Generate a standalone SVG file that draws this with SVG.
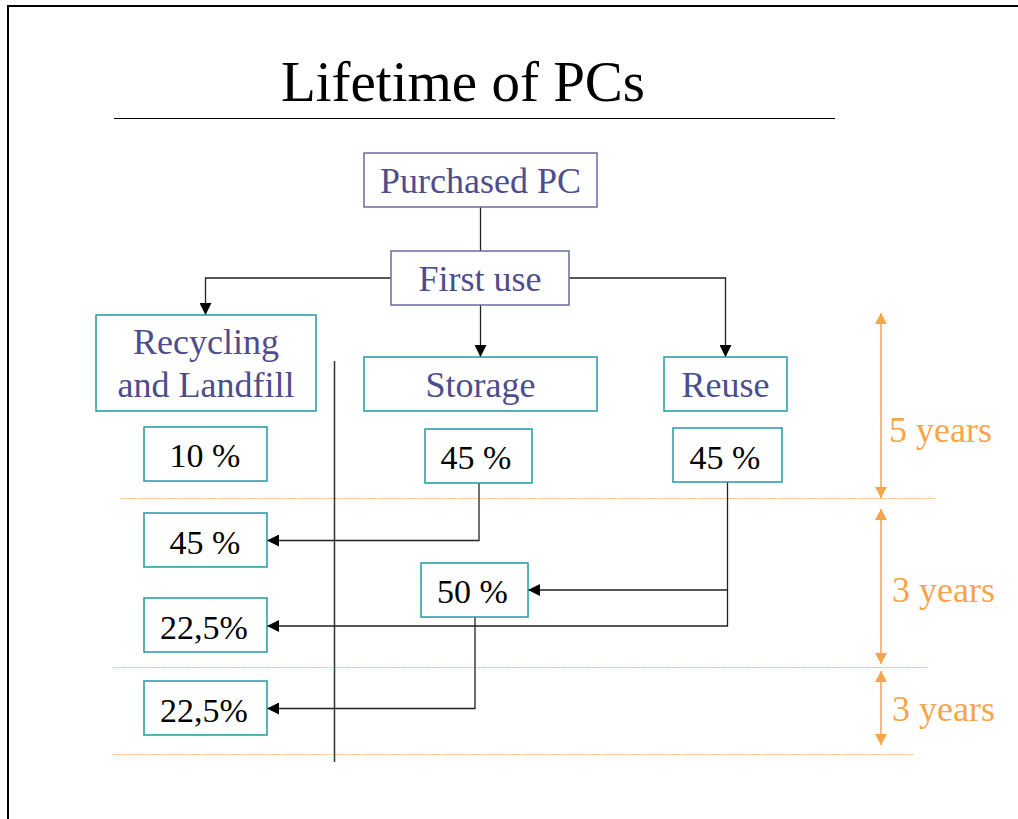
<svg xmlns="http://www.w3.org/2000/svg" width="1018" height="819" viewBox="0 0 1018 819">
<style>
.t{font-family:"Liberation Serif","Times New Roman",serif;text-anchor:middle}
.lbl{font-size:36px;fill:#4d4d8d}
.pct{font-size:34px;fill:#000}
.yr{font-family:"Liberation Serif","Times New Roman",serif;font-size:36px;fill:#f6a54a}
.pbox{fill:#fff;stroke:#6a6aa2;stroke-width:1.5}
.tbox{fill:#fff;stroke:#1f9ba3;stroke-width:1.5}
.con{fill:none;stroke:#222;stroke-width:1.3}
.dot{fill:none;stroke:#f6b26b;stroke-width:1;stroke-dasharray:1.5 1}
.oar{fill:none;stroke:#f6a54a;stroke-width:1.5}
</style>
<defs>
<marker id="ah" viewBox="0 0 12 12" refX="12" refY="6" markerWidth="12" markerHeight="12" markerUnits="userSpaceOnUse" orient="auto">
<path d="M0,0 L12,6 L0,12 Z" fill="#000"/>
</marker>
<marker id="oh" viewBox="0 0 11 12" refX="11" refY="6" markerWidth="11" markerHeight="12" markerUnits="userSpaceOnUse" orient="auto-start-reverse">
<path d="M0,0 L11,6 L0,12 Z" fill="#f6a54a"/>
</marker>
</defs>
<rect width="1018" height="819" fill="#fff"/>
<path d="M8,819 V6 H1018" fill="none" stroke="#000" stroke-width="2"/>
<g id="title">
<text class="t" x="463" y="101" font-size="57" fill="#000">Lifetime of PCs</text>
<line x1="114" y1="118.5" x2="835" y2="118.5" stroke="#000" stroke-width="1.2"/>
</g>
<g id="guides">
<line class="dot" x1="120" y1="498.5" x2="934" y2="498.5"/>
<line class="dot" x1="114" y1="667.5" x2="928" y2="667.5"/>
<line class="dot" x1="114" y1="754.5" x2="913" y2="754.5"/>
<line x1="334.5" y1="361" x2="334.5" y2="762" stroke="#333" stroke-width="1.5"/>
</g>
<g id="connectors">
<line class="con" x1="480.5" y1="207" x2="480.5" y2="251"/>
<path class="con" d="M391,278 H205.5 V315" marker-end="url(#ah)"/>
<path class="con" d="M569,278 H725.5 V357" marker-end="url(#ah)"/>
<path class="con" d="M480.5,305 V357" marker-end="url(#ah)"/>
<path class="con" d="M479,483 V540.5 H267" marker-end="url(#ah)"/>
<path class="con" d="M727.5,482 V626 H267" marker-end="url(#ah)"/>
<path class="con" d="M727.5,590 H528" marker-end="url(#ah)"/>
<path class="con" d="M475,617 V708.5 H267" marker-end="url(#ah)"/>
</g>
<g id="purchased">
<rect class="pbox" x="364" y="153" width="233" height="54"/>
<text class="t lbl" x="480.5" y="193">Purchased PC</text>
</g>
<g id="firstuse">
<rect class="pbox" x="391" y="251" width="178" height="54"/>
<text class="t lbl" x="480" y="291">First use</text>
</g>
<g id="recycling">
<rect class="tbox" x="96" y="315" width="220" height="96"/>
<text class="t lbl" x="206" y="354">Recycling</text>
<text class="t lbl" x="206" y="397">and Landfill</text>
</g>
<g id="storage">
<rect class="tbox" x="364" y="357" width="233" height="54"/>
<text class="t lbl" x="480.5" y="397">Storage</text>
</g>
<g id="reuse">
<rect class="tbox" x="664" y="357" width="123" height="54"/>
<text class="t lbl" x="725.5" y="397">Reuse</text>
</g>
<g id="p10">
<rect class="tbox" x="144" y="427" width="123" height="54"/>
<text class="t pct" x="205" y="467">10 %</text>
</g>
<g id="p45storage">
<rect class="tbox" x="425" y="429" width="107" height="54"/>
<text class="t pct" x="476" y="469">45 %</text>
</g>
<g id="p45reuse">
<rect class="tbox" x="673" y="428" width="109" height="54"/>
<text class="t pct" x="725" y="469">45 %</text>
</g>
<g id="p45left">
<rect class="tbox" x="144" y="513" width="123" height="54"/>
<text class="t pct" x="205" y="554">45 %</text>
</g>
<g id="p50">
<rect class="tbox" x="421" y="563" width="107" height="54"/>
<text class="t pct" x="472.5" y="603">50 %</text>
</g>
<g id="p225a">
<rect class="tbox" x="144" y="598" width="123" height="54"/>
<text class="t pct" x="204" y="639">22,5%</text>
</g>
<g id="p225b">
<rect class="tbox" x="144" y="681" width="123" height="54"/>
<text class="t pct" x="204" y="722">22,5%</text>
</g>
<g id="timeline">
<line class="oar" x1="881" y1="313" x2="881" y2="498" marker-start="url(#oh)" marker-end="url(#oh)"/>
<line class="oar" x1="881" y1="509" x2="881" y2="664" marker-start="url(#oh)" marker-end="url(#oh)"/>
<line class="oar" x1="881" y1="671" x2="881" y2="745" marker-start="url(#oh)" marker-end="url(#oh)"/>
<text class="yr" x="889" y="442">5 years</text>
<text class="yr" x="892" y="602">3 years</text>
<text class="yr" x="892" y="721">3 years</text>
</g>
</svg>
